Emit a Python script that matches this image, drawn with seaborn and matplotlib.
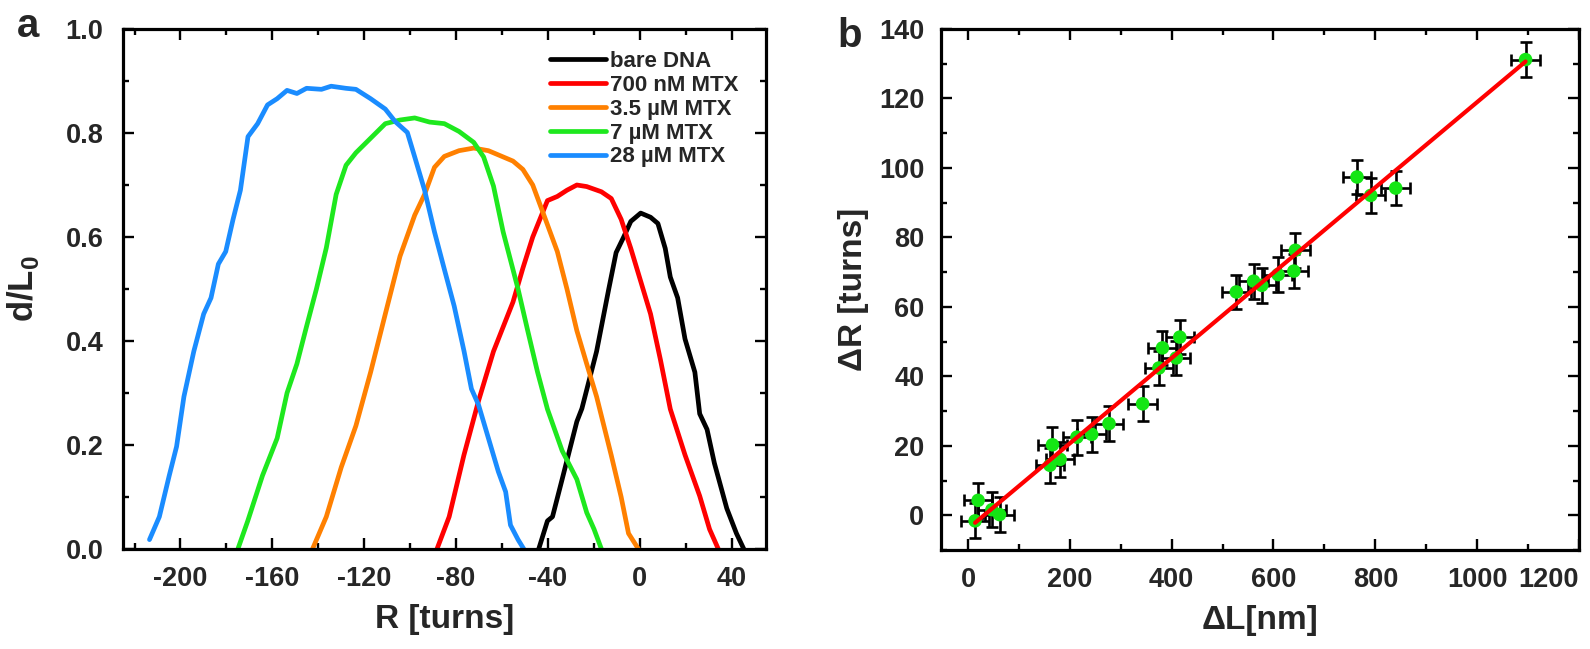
import numpy as np
import pandas as pd
import matplotlib
matplotlib.use("Agg")
import matplotlib.pyplot as plt
import seaborn as sns
from matplotlib.ticker import MultipleLocator

# ---- panel a: relative extension vs. applied turns ----
bare_R = [-44, -40.2, -38, -33.8, -27.4, -25.2, -18.8, -13.5, -10.3, -7, -3.9, 0.4, 4.7, 7.9,
          11.1, 13.3, 16.5, 19.7, 24, 26.1, 29.3, 32.5, 37.9, 42.1, 45.3]
bare_d = [0, 0.054, 0.062, 0.134, 0.245, 0.27, 0.38, 0.5, 0.57, 0.60, 0.63, 0.646, 0.638, 0.626,
          0.578, 0.523, 0.483, 0.404, 0.34, 0.26, 0.23, 0.165, 0.078, 0.03, 0]

mtx700_R = [-88.3, -83, -76.6, -70.2, -63.7, -55.2, -50.9, -46.6, -43.4, -40.2, -35.9, -31.7, -27.4,
            -23.1, -16.7, -12.4, -8.1, -3.9, 0.4, 4.7, 9, 13.3, 19.7, 26.1, 30.4, 34.2]
mtx700_d = [0, 0.062, 0.18, 0.285, 0.38, 0.475, 0.54, 0.60, 0.635, 0.67, 0.678, 0.69, 0.70,
            0.697, 0.687, 0.674, 0.634, 0.578, 0.515, 0.452, 0.364, 0.269, 0.181, 0.102, 0.038, 0]

mtx3p5_R = [-142.5, -136.5, -130, -123.6, -117.2, -110.8, -104.4, -98, -93.7, -89.4, -85.1, -78.7,
            -72.3, -65.9, -55.2, -50.9, -46.6, -42.4, -35.9, -31.7, -27.4, -23.1, -18.8, -12.4,
            -8.1, -4.9, -0.6]
mtx3p5_d = [0, 0.062, 0.157, 0.237, 0.34, 0.452, 0.563, 0.642, 0.682, 0.734, 0.755, 0.766,
            0.771, 0.766, 0.746, 0.73, 0.70, 0.65, 0.572, 0.50, 0.42, 0.356, 0.293, 0.18,
            0.10, 0.03, 0]

mtx7_R = [-175, -170.7, -164.3, -157.9, -153.6, -149.3, -145.1, -140.8, -136.5, -132.2, -127.9,
          -123.6, -117.2, -110.8, -104.4, -98, -91.5, -85.1, -78.7, -72.3, -68, -63.7, -59.5,
          -53, -48.8, -44.5, -40.2, -33.8, -27.4, -23.1, -19.9, -16.7]
mtx7_d = [0, 0.054, 0.141, 0.213, 0.30, 0.356, 0.428, 0.50, 0.579, 0.682, 0.738,
          0.762, 0.79, 0.818, 0.825, 0.829, 0.821, 0.818, 0.803, 0.782, 0.754, 0.698, 0.61,
          0.50, 0.42, 0.34, 0.269, 0.189, 0.134, 0.07, 0.038, 0]

mtx28_R = [-213.5, -209.2, -204.9, -201.7, -198.5, -194.2, -189.9, -186.7, -183.5, -180.3, -177.1,
           -173.9, -170.6, -166.4, -162.1, -157.9, -153.6, -149.3, -145.1, -138.6, -134.4, -128,
           -123.6, -117.2, -110.8, -106.5, -101.2, -98, -93.7, -89.4, -85.1, -80.8, -76.5, -73.3,
           -70.2, -65.9, -61.6, -58.4, -56.3, -53, -50.5]
mtx28_d = [0.018, 0.062, 0.141, 0.197, 0.293, 0.38, 0.452, 0.483, 0.548, 0.572, 0.634,
           0.69, 0.793, 0.818, 0.854, 0.866, 0.882, 0.876, 0.886, 0.884, 0.89, 0.886,
           0.884, 0.866, 0.846, 0.822, 0.801, 0.754, 0.69, 0.61, 0.538, 0.467, 0.38, 0.308,
           0.277, 0.213, 0.149, 0.11, 0.046, 0.018, 0]

curve_labels = ["bare DNA", "700 nM MTX", "3.5 µM MTX", "7 µM MTX", "28 µM MTX"]
curve_colors = ["#000000", "#ff0000", "#ff8000", "#1ee81e", "#1a8cff"]

# ---- panel b: change in turns vs. change in length ----
dL = [14, 20, 47, 62, 161, 166, 181, 214, 243, 277, 343, 375, 382, 409, 416, 527, 561, 577,
      609, 640, 643, 764, 791, 840, 1095]
dR = [-1.6, 4.3, 1.6, 0.2, 14.4, 20.3, 16.1, 22.5, 23.3, 26.4, 32.1, 42.4, 48.2, 45.3, 51.3,
      64.3, 67.4, 66.2, 69.3, 70.3, 76.3, 97.4, 92.1, 94.2, 131.2]
dL_err = 28
dR_err = 5

sns.set_style("ticks")
plt.rcParams["font.family"] = ["Liberation Sans", "DejaVu Sans"]
plt.rcParams["font.weight"] = "bold"
plt.rcParams["axes.labelweight"] = "bold"
plt.rcParams["axes.unicode_minus"] = False
plt.rcParams["mathtext.fontset"] = "custom"
plt.rcParams["mathtext.rm"] = "Liberation Sans:bold"
plt.rcParams["mathtext.bf"] = "Liberation Sans:bold"

fig = plt.figure(figsize=(15.9, 6.49), dpi=100)
ax_a = fig.add_axes([0.0774, 0.1541, 0.4044, 0.8012])
ax_b = fig.add_axes([0.5918, 0.1525, 0.4013, 0.8028])

# panel a curves
frames = []
for lab, R, d in zip(curve_labels,
                     [bare_R, mtx700_R, mtx3p5_R, mtx7_R, mtx28_R],
                     [bare_d, mtx700_d, mtx3p5_d, mtx7_d, mtx28_d]):
    frames.append(pd.DataFrame({"R": R, "d": d, "label": lab}))
df = pd.concat(frames, ignore_index=True)

sns.lineplot(data=df, x="R", y="d", hue="label", hue_order=curve_labels,
             palette=dict(zip(curve_labels, curve_colors)), sort=False,
             estimator=None, lw=3.4, legend=False, ax=ax_a)
for ln in ax_a.lines:
    ln.set_solid_joinstyle("round")
    ln.set_solid_capstyle("round")
ax_a.legend(ax_a.lines[:5], curve_labels, loc="upper left",
            bbox_to_anchor=(0.664, 0.958), frameon=False, borderpad=0, borderaxespad=0,
            handlelength=2.5, handletextpad=0.22, labelspacing=0.13,
            prop={"size": 16, "weight": "bold"})

ax_a.set_xlim(-225, 55)
ax_a.set_ylim(0, 1.0)
ax_a.xaxis.set_major_locator(MultipleLocator(40))
ax_a.xaxis.set_minor_locator(MultipleLocator(20))
ax_a.yaxis.set_major_locator(MultipleLocator(0.2))
ax_a.yaxis.set_minor_locator(MultipleLocator(0.1))
ax_a.set_xlabel("R [turns]", fontsize=24)
ax_a.set_ylabel(r"d/L$_\mathbf{0}$", fontsize=25)
ax_a.yaxis.set_label_coords(-0.127, 0.5)
ax_a.xaxis.set_label_coords(0.5, -0.105)

# panel b
ax_b.errorbar(dL, dR, xerr=dL_err, yerr=dR_err, fmt="none", ecolor="black",
              elinewidth=1.9, capsize=4.2, capthick=1.9, zorder=2)
sns.scatterplot(x=dL, y=dR, color="#14e614", s=95, edgecolor="none", zorder=3, ax=ax_b)
slope, intercept = np.polyfit(dL, dR, 1)
fit_x = np.array([min(dL), max(dL)])
sns.lineplot(x=fit_x, y=slope * fit_x + intercept, color="#ff0000", lw=3, zorder=4, ax=ax_b)

ax_b.set_xlim(-53, 1200)
ax_b.set_ylim(-10, 140)
ax_b.xaxis.set_major_locator(MultipleLocator(200))
ax_b.xaxis.set_minor_locator(MultipleLocator(100))
ax_b.yaxis.set_major_locator(MultipleLocator(20))
ax_b.yaxis.set_minor_locator(MultipleLocator(10))
ax_b.set_xlabel("ΔL[nm]", fontsize=24)
ax_b.set_ylabel("ΔR [turns]", fontsize=24)
ax_b.yaxis.set_label_coords(-0.113, 0.5)
ax_b.xaxis.set_label_coords(0.5, -0.105)

for ax, ypad in [(ax_a, 14), (ax_b, 12)]:
    for s in ax.spines.values():
        s.set_linewidth(2.3)
        s.set_color("black")
    ax.tick_params(which="both", direction="in", top=True, right=True, width=1.7, color="black")
    ax.tick_params(which="major", length=8)
    ax.tick_params(which="minor", length=4.5)
    ax.tick_params(axis="x", which="major", labelsize=19.5, pad=12)
    ax.tick_params(axis="y", which="major", labelsize=19.5, pad=ypad)

# the last x label of panel b sits inside the figure edge, as in the reference
fig.canvas.draw()
ax_b.get_xticklabels()[-1].set_ha("right")
for t in ax_b.get_xticklabels():
    if t.get_text() == "1200":
        t.set_ha("right")

fig.text(17 / 1590, 1 - 37 / 649, "a", fontsize=29, fontweight="bold", va="baseline")
fig.text(837 / 1590, 1 - 47 / 649, "b", fontsize=29, fontweight="bold", va="baseline")

fig.savefig("out.png", dpi=100)
